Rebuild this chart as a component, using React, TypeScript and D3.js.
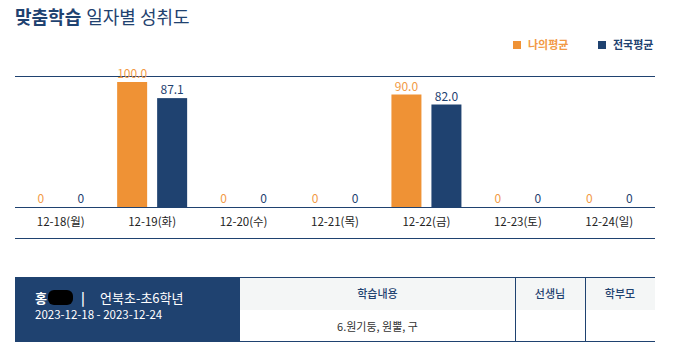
import React from "react";
import * as d3 from "d3";

const dates = ["12-18(월)", "12-19(화)", "12-20(수)", "12-21(목)", "12-22(금)", "12-23(토)", "12-24(일)"];
const seriesKeys = ["my", "nat"];
const seriesNames = ["나의평균", "전국평균"];
const myAvg = [0, 100, 0, 0, 90, 0, 0];
const natAvg = [0, 87.1, 0, 0, 82, 0, 0];
const tableHeaders = ["학습내용", "선생님", "학부모"];
const studyContent = "6.원기둥, 원뿔, 구";
const schoolText = "언북초-초6학년";
const dateRange = "2023-12-18 - 2023-12-24";

const NAVY = "#1F4270";
const ORANGE = "#EF9235";
const ORANGE_TXT = "#F29A46";
const FONT = "'Noto Sans CJK KR', 'Noto Sans', sans-serif";

export default function App() {
  const W = 674, H = 357;
  const left = 15, right = 655;
  const yTop = 76, yBase = 207, yBottom = 238;
  const x = d3.scaleBand<string>().domain(dates).range([left, right]).padding(0);
  const xs = d3.scaleBand<string>().domain(seriesKeys).range([-35, 35]).paddingInner(0.25);
  const y = d3.scaleLinear().domain([0, 100]).range([yBase, 82]);
  const colors = [ORANGE, NAVY];
  const txtColors = [ORANGE_TXT, NAVY];
  const series = [myAvg, natAvg];
  const fmt = (v: number) => (v === 0 ? "0" : d3.format(".1f")(v));

  const tL = 240, c1 = 515, c2 = 585, tTop = 277, tMid = 310, tBot = 342;

  return (
    <svg width={W} height={H} style={{ position: "absolute", left: 0, top: 0, display: "block" }} fontFamily={FONT}>
      <rect width={W} height={H} fill="#fff" />
      <text x={15} y={24} fontSize={18} fill={NAVY}>
        <tspan fontWeight="bold">맞춤학습</tspan>
        <tspan dx={5}>일자별 성취도</tspan>
      </text>
      {seriesNames.map((n, i) => (
        <g key={n} transform={`translate(${i === 0 ? 513 : 598},0)`}>
          <rect x={0} y={41} width={8} height={8} fill={colors[i]} />
          <text x={15} y={49} fontSize={11} fontWeight="bold" fill={txtColors[i]}>{n}</text>
        </g>
      ))}
      <line x1={left} x2={right} y1={yTop + 0.5} y2={yTop + 0.5} stroke={NAVY} />
      <line x1={left} x2={right} y1={yBase + 0.5} y2={yBase + 0.5} stroke={NAVY} />
      <line x1={left} x2={right} y1={yBottom + 0.5} y2={yBottom + 0.5} stroke={NAVY} />
      {dates.map((d, di) => {
        const cx = (x(d) as number) + x.bandwidth() / 2;
        return (
          <g key={d}>
            {seriesKeys.map((k, si) => {
              const v = series[si][di];
              const bx = cx + (xs(k) as number);
              const top = y(v);
              return (
                <g key={k}>
                  {v > 0 && <rect x={bx} y={top} width={xs.bandwidth()} height={yBase - top} fill={colors[si]} />}
                  <text x={bx + xs.bandwidth() / 2} y={top - 4} textAnchor="middle" fontSize={12} fill={txtColors[si]}>
                    {fmt(v)}
                  </text>
                </g>
              );
            })}
            <text x={cx} y={226} textAnchor="middle" fontSize={11.5} fill="#222">{d}</text>
          </g>
        );
      })}
      <rect x={left} y={tTop} width={tL - left} height={tBot - tTop} fill={NAVY} />
      <rect x={tL} y={tTop} width={right - tL} height={tMid - tTop} fill="#F4F6F6" />
      <line x1={tL} x2={right} y1={tTop + 0.5} y2={tTop + 0.5} stroke={NAVY} />
      <line x1={tL} x2={right} y1={tBot - 0.5} y2={tBot - 0.5} stroke={NAVY} />
      <line x1={c1 + 0.5} x2={c1 + 0.5} y1={tTop} y2={tBot} stroke={NAVY} />
      <line x1={c2 + 0.5} x2={c2 + 0.5} y1={tTop} y2={tBot} stroke={NAVY} />
      <text x={35} y={303} fontSize={13} fontWeight="bold" fill="#fff">홍</text>
      <rect x={48} y={290} width={25} height={15} rx={6} fill="#000" />
      <text x={81} y={303} fontSize={13} fontWeight="bold" fill="#fff">|</text>
      <text x={100} y={303} fontSize={13} fill="#fff">{schoolText}</text>
      <text x={35} y={319} fontSize={11.5} fill="#fff">{dateRange}</text>
      <text x={(tL + c1) / 2} y={298} textAnchor="middle" fontSize={11} fontWeight={500} fill={NAVY}>{tableHeaders[0]}</text>
      <text x={(c1 + c2) / 2} y={298} textAnchor="middle" fontSize={11} fontWeight={500} fill={NAVY}>{tableHeaders[1]}</text>
      <text x={(c2 + right) / 2} y={298} textAnchor="middle" fontSize={11} fontWeight={500} fill={NAVY}>{tableHeaders[2]}</text>
      <text x={(tL + c1) / 2} y={331} textAnchor="middle" fontSize={11} fill="#333">{studyContent}</text>
    </svg>
  );
}
